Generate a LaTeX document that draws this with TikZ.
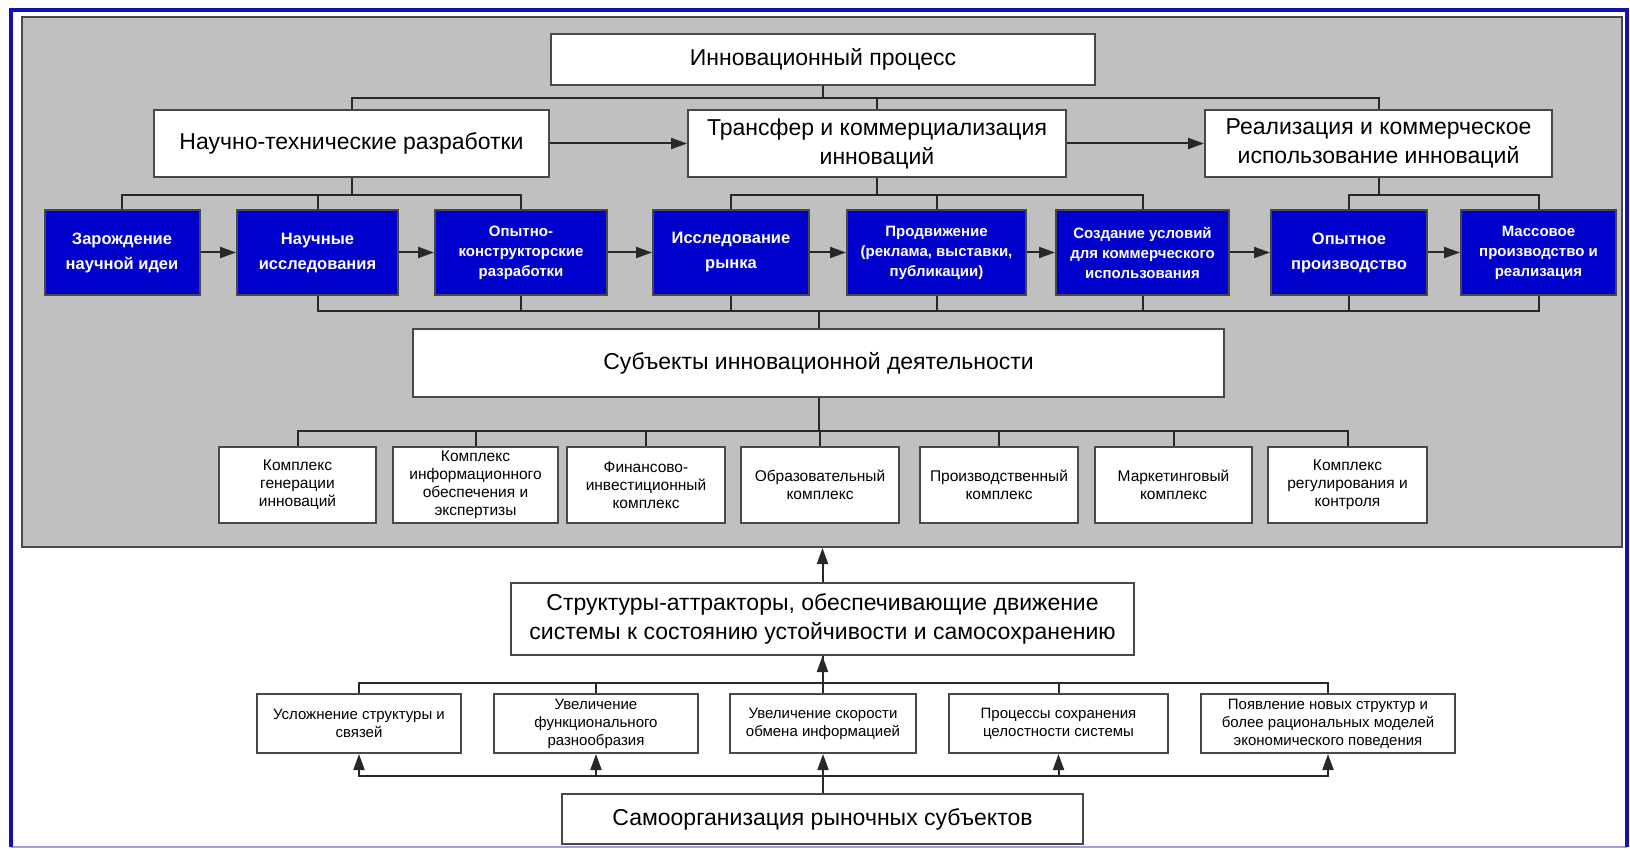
\documentclass[tikz,border=0pt]{standalone}
\usepackage{fontspec}
\setmainfont{Liberation Sans}
\usepackage{tikz}
\usetikzlibrary{arrows.meta}
\usepackage{xcolor}
\definecolor{procblue}{RGB}{0,0,204}
\definecolor{framecol}{RGB}{18,18,176}
\definecolor{panelgray}{RGB}{192,192,192}
\definecolor{boxgray}{RGB}{72,72,72}
\definecolor{linecol}{RGB}{40,40,40}

\begin{document}
\begin{tikzpicture}[x=1pt,y=-1pt,>={Triangle[length=16pt,width=11pt]}]
\tikzset{
    hdr/.style={%
        draw=boxgray, line width=2pt, fill=white,
        rectangle, inner sep=0pt, align=center,
        font=\fontsize{23}{29}\selectfont
        },
    stage/.style={%
        draw=boxgray, line width=2pt, fill=procblue,
        rectangle, inner sep=0pt, align=center, text=white,
        minimum height=85pt,
        font=\bfseries\fontsize{16.5}{25}\selectfont
        },
    stage3/.style={%
        stage,
        font=\bfseries\fontsize{15}{20}\selectfont
        },
    cplx/.style={%
        draw=boxgray, line width=2pt, fill=white,
        rectangle, inner sep=0pt, align=center,
        minimum height=76pt,
        font=\fontsize{15.5}{18}\selectfont
        },
    attr/.style={%
        draw=boxgray, line width=2pt, fill=white,
        rectangle, inner sep=0pt, align=center,
        minimum height=59pt,
        font=\fontsize{15}{18}\selectfont
        },
    tree/.style={draw=linecol, line width=2pt},
}
\useasboundingbox (0,0) rectangle (1630,850);
%%%FRAME
\draw[framecol!40, line width=1.5pt] (11,847) -- (1627,847);
\draw[framecol, line width=4.5pt] (11,847) -- (11,10) -- (1627,10) -- (1627,847);
\node[draw=boxgray, line width=2pt, fill=panelgray, minimum width=1600pt, minimum height=530pt] (panel) at (822,282) {};
%%%PROCESS
\node[hdr, minimum width=544pt, minimum height=51pt] (proc) at (823,59.5) {Инновационный процесс};
\node[hdr, minimum width=395pt, minimum height=67pt] (ntr) at (351.5,143.5) {Научно-технические разработки};
\node[hdr, minimum width=378pt, minimum height=67pt] (trans) at (877,143.5) {Трансфер и коммерциализация\\инноваций};
\node[hdr, minimum width=347pt, minimum height=67pt] (real) at (1378.5,143.5) {Реализация и коммерческое\\использование инноваций};
%%%STAGES
\node[stage, minimum width=155pt] (idea) at (122,252.5) {Зарождение\\научной идеи};
\node[stage, minimum width=161pt] (res) at (317.5,252.5) {Научные\\исследования};
\node[stage3, minimum width=172pt] (okr) at (521,252.5) {Опытно-\\конструкторские\\разработки};
\node[stage, minimum width=156pt] (mkt) at (731,252.5) {Исследование\\рынка};
\node[stage3, minimum width=179pt] (promo) at (936.5,252.5) {Продвижение\\(реклама, выставки,\\публикации)};
\node[stage3, minimum width=173pt] (cond) at (1142.5,252.5) {Создание условий\\для коммерческого\\использования};
\node[stage, minimum width=156pt] (pilot) at (1349,252.5) {Опытное\\производство};
\node[stage3, minimum width=155pt] (mass) at (1538.5,252.5) {Массовое\\производство и\\реализация};
%%%SUBJECTS
\node[hdr, minimum width=811pt, minimum height=68pt] (subj) at (818.5,363) {Субъекты инновационной деятельности};
\node[cplx, minimum width=157pt] (gen) at (297.5,485) {Комплекс\\генерации\\инноваций};
\node[cplx, minimum width=165pt] (info) at (475.5,485) {Комплекс\\информационного\\обеспечения и\\экспертизы};
\node[cplx, minimum width=158pt] (fin) at (646,485) {Финансово-\\инвестиционный\\комплекс};
\node[cplx, minimum width=158pt] (edu) at (820,485) {Образовательный\\комплекс};
\node[cplx, minimum width=158pt] (prod) at (999,485) {Производственный\\комплекс};
\node[cplx, minimum width=157pt] (mark) at (1173.5,485) {Маркетинговый\\комплекс};
\node[cplx, minimum width=159pt] (reg) at (1347.5,485) {Комплекс\\регулирования и\\контроля};
%%%SELF-ORGANIZATION
\node[hdr, minimum width=623pt, minimum height=72pt] (attrc) at (822.5,619) {Структуры-аттракторы, обеспечивающие движение\\системы к состоянию устойчивости и самосохранению};
\node[attr, minimum width=204pt] (d1) at (359,723.5) {Усложнение структуры и\\связей};
\node[attr, minimum width=204pt] (d2) at (596,723.5) {Увеличение\\функционального\\разнообразия};
\node[attr, minimum width=186pt] (d3) at (823,723.5) {Увеличение скорости\\обмена информацией};
\node[attr, minimum width=219pt] (d4) at (1058.5,723.5) {Процессы сохранения\\целостности системы};
\node[attr, minimum width=254pt] (d5) at (1328,723.5) {Появление новых структур и\\более рациональных моделей\\экономического поведения};
\node[hdr, minimum width=521pt, minimum height=50pt] (self) at (822.5,819) {Самоорганизация рыночных субъектов};
%%%TREE LINES
\draw[tree] (proc.south) -- ++(0,12) coordinate (p0);
\foreach \k in {ntr,trans,real} \draw[tree] (p0) -| (\k.north);
\draw[tree] (ntr.south) -- ++(0,17) coordinate (n0);
\foreach \k in {idea,res,okr} \draw[tree] (n0) -| (\k.north);
\draw[tree] (trans.south) -- ++(0,17) coordinate (t0);
\foreach \k in {mkt,promo,cond} \draw[tree] (t0) -| (\k.north);
\draw[tree] (real.south) -- ++(0,17) coordinate (r0);
\foreach \k in {pilot,mass} \draw[tree] (r0) -| (\k.north);
\draw[tree] (subj.north) -- ++(0,-17) coordinate (s0);
\foreach \k in {res,okr,mkt,promo,cond,pilot,mass} \draw[tree] (s0) -| (\k.south);
\draw[tree] (subj.south) -- ++(0,33) coordinate (s1);
\foreach \k in {gen,info,fin,edu,prod,mark,reg} \draw[tree] (s1) -| (\k.north);
%%%ARROWS
\draw[tree,->] (ntr) -- (trans);
\draw[tree,->] (trans) -- (real);
\foreach \a/\b in {idea/res,res/okr,okr/mkt,mkt/promo,promo/cond,cond/pilot,pilot/mass}
    \draw[tree,->] (\a) -- (\b);
\draw[tree,->] (attrc.north) -- (attrc.north |- panel.south);
\draw[tree] (attrc.south) -- ++(0,27) coordinate (a0);
\draw[tree,->] (a0) -- (attrc.south);
\foreach \k in {d1,d2,d3,d4,d5} \draw[tree] (a0) -| (\k.north);
\draw[tree] (self.north) -- ++(0,-17) coordinate (q0);
\foreach \k in {d1,d2,d3,d4,d5} \draw[tree,->] (q0) -| (\k.south);
\end{tikzpicture}
\end{document}
